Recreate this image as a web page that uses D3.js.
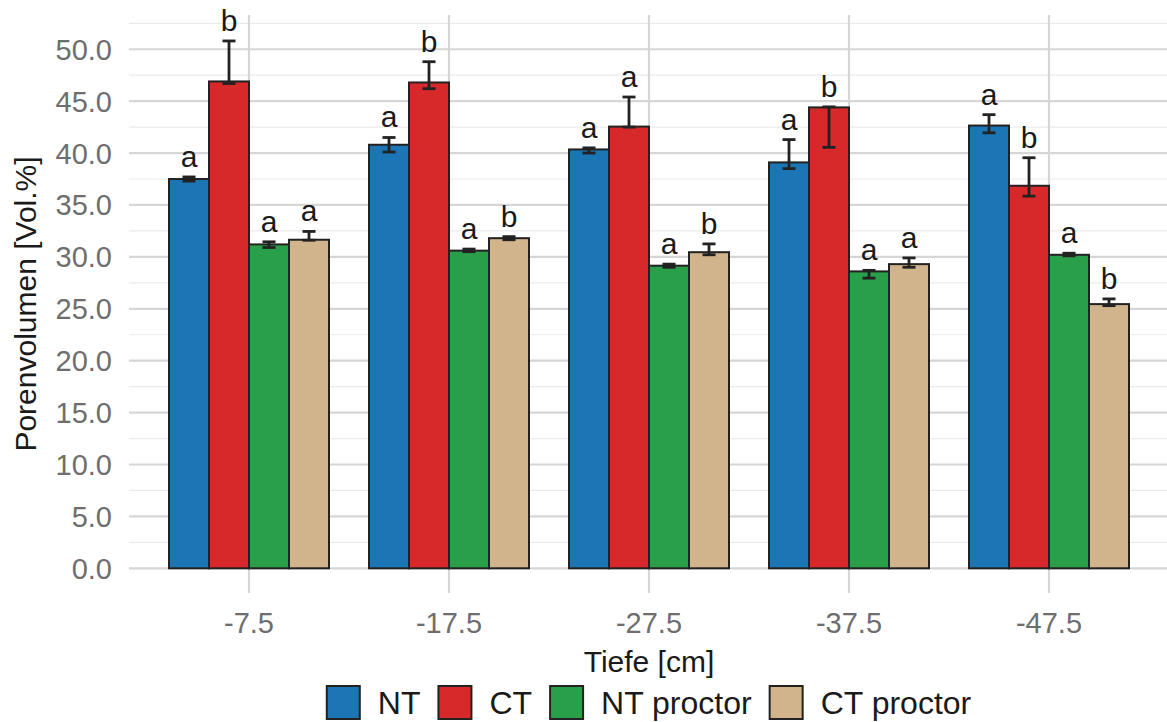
<!DOCTYPE html>
<meta charset="utf-8">
<style>
body { margin: 0; background: #fff; }
svg { font-family: "Liberation Sans", Arial, sans-serif; }
.grid-major line { stroke: #d6d6d6; stroke-width: 2.2px; }
.grid-minor line { stroke: #ebebeb; stroke-width: 1.2px; }
.bars rect { stroke: #222; stroke-width: 2px; }
.errs line { stroke: #222; stroke-width: 2.8px; }
</style>
<script src="https://d3js.org/d3.v7.min.js"></script>
<body>
<div id="chart"></div>
<script>
// data
var depths = ["-7.5", "-17.5", "-27.5", "-37.5", "-47.5"];
var series = ["NT", "CT", "NT proctor", "CT proctor"];
var colors = ["#1c76b6", "#d7282a", "#2a9f49", "#d2b48c"];

// mean values per series (one per depth)
var meanNT   = [37.5, 40.8, 40.35, 39.1, 42.65];
var meanCT   = [46.9, 46.8, 42.55, 44.4, 36.85];
var meanNTp  = [31.2, 30.6, 29.15, 28.6, 30.2];
var meanCTp  = [31.65, 31.8, 30.45, 29.3, 25.45];

// error bar low / high
var lowNT  = [37.3, 40.1, 40.0, 38.5, 41.95];
var highNT = [37.7, 41.5, 40.5, 41.3, 43.7];
var lowCT  = [46.7, 46.2, 42.5, 40.55, 35.85];
var highCT = [50.8, 48.8, 45.4, 44.45, 39.55];
var lowNTp  = [30.9, 30.5, 29.0, 27.95, 30.1];
var highNTp = [31.45, 30.75, 29.3, 28.7, 30.35];
var lowCTp  = [31.6, 31.65, 30.2, 29.0, 25.3];
var highCTp = [32.45, 31.95, 31.25, 29.9, 25.95];

// significance letters
var letNT  = ["a", "a", "a", "a", "a"];
var letCT  = ["b", "b", "a", "b", "b"];
var letNTp = ["a", "a", "a", "a", "a"];
var letCTp = ["a", "b", "b", "a", "b"];

var yTicks = [0, 5, 10, 15, 20, 25, 30, 35, 40, 45, 50];
var yMinor = [2.5, 7.5, 12.5, 17.5, 22.5, 27.5, 32.5, 37.5, 42.5, 47.5, 52.5];

var means = [meanNT, meanCT, meanNTp, meanCTp];
var lows = [lowNT, lowCT, lowNTp, lowCTp];
var highs = [highNT, highCT, highNTp, highCTp];
var lets = [letNT, letCT, letNTp, letCTp];

var rows = [];
depths.forEach(function(d, i) {
  series.forEach(function(s, j) {
    rows.push({depth: d, series: s, value: means[j][i], lo: lows[j][i], hi: highs[j][i], letter: lets[j][i], color: colors[j]});
  });
});

var W = 1167, H = 722;
var pL = 129, pR = 1169, pT = 15, pB = 593;

var svg = d3.select("#chart").append("svg")
    .attr("width", W)
    .attr("height", H);

var x0 = d3.scaleBand().domain(depths).range([pL, pR]).paddingInner(0).paddingOuter(0.1);
var x1 = d3.scaleBand().domain(series).range([0, x0.bandwidth()]).paddingInner(0).paddingOuter(0.5);
var y = d3.scaleLinear().domain([-2.38, 53.3]).range([pB, pT]);

// grid
svg.append("g").attr("class", "grid-minor")
  .selectAll("line").data(yMinor).enter().append("line")
    .attr("x1", pL).attr("x2", pR)
    .attr("y1", function(d) { return y(d); })
    .attr("y2", function(d) { return y(d); });

svg.append("g").attr("class", "grid-major")
  .selectAll("line").data(yTicks).enter().append("line")
    .attr("x1", pL).attr("x2", pR)
    .attr("y1", function(d) { return y(d); })
    .attr("y2", function(d) { return y(d); });

svg.append("g").attr("class", "grid-major")
  .selectAll("line").data(depths).enter().append("line")
    .attr("x1", function(d) { return x0(d) + x0.bandwidth() / 2; })
    .attr("x2", function(d) { return x0(d) + x0.bandwidth() / 2; })
    .attr("y1", pT).attr("y2", pB);

// bars
svg.append("g").attr("class", "bars")
  .selectAll("rect").data(rows).enter().append("rect")
    .attr("x", function(d) { return x0(d.depth) + x1(d.series); })
    .attr("width", x1.bandwidth())
    .attr("y", function(d) { return y(d.value); })
    .attr("height", function(d) { return y(0) - y(d.value); })
    .attr("fill", function(d) { return d.color; });

// error bars
var capW = 6.5;
var eg = svg.append("g").attr("class", "errs")
  .selectAll("g").data(rows).enter().append("g")
    .attr("transform", function(d) { return "translate(" + (x0(d.depth) + x1(d.series) + x1.bandwidth() / 2) + ",0)"; });
eg.append("line").attr("x1", 0).attr("x2", 0)
    .attr("y1", function(d) { return y(d.lo); })
    .attr("y2", function(d) { return y(d.hi); });
eg.append("line").attr("x1", -capW).attr("x2", capW)
    .attr("y1", function(d) { return y(d.lo); })
    .attr("y2", function(d) { return y(d.lo); });
eg.append("line").attr("x1", -capW).attr("x2", capW)
    .attr("y1", function(d) { return y(d.hi); })
    .attr("y2", function(d) { return y(d.hi); });

// letters
svg.append("g").selectAll("text").data(rows).enter().append("text")
    .attr("x", function(d) { return x0(d.depth) + x1(d.series) + x1.bandwidth() / 2; })
    .attr("y", function(d) { return y(d.hi) - 10; })
    .attr("text-anchor", "middle")
    .attr("font-size", 30)
    .attr("fill", "#1a1a1a")
    .text(function(d) { return d.letter; });

// axis labels
svg.append("g").selectAll("text").data(yTicks).enter().append("text")
    .attr("x", 112)
    .attr("y", function(d) { return y(d); })
    .attr("dy", "0.36em")
    .attr("text-anchor", "end")
    .attr("font-size", 29)
    .attr("fill", "#6e6e6e")
    .text(function(d) { return d3.format(".1f")(d); });

svg.append("g").selectAll("text").data(depths).enter().append("text")
    .attr("x", function(d) { return x0(d) + x0.bandwidth() / 2; })
    .attr("y", 633)
    .attr("text-anchor", "middle")
    .attr("font-size", 29)
    .attr("fill", "#6e6e6e")
    .text(function(d) { return d; });

svg.append("text")
    .attr("x", (pL + pR) / 2)
    .attr("y", 672)
    .attr("text-anchor", "middle")
    .attr("font-size", 30)
    .attr("fill", "#1a1a1a")
    .text("Tiefe [cm]");

svg.append("text")
    .attr("transform", "translate(36," + ((pT + pB) / 2) + ") rotate(-90)")
    .attr("text-anchor", "middle")
    .attr("font-size", 30)
    .attr("fill", "#1a1a1a")
    .text("Porenvolumen [Vol.%]");

// legend
var legend = svg.append("g");
var items = legend.selectAll("g").data(series).enter().append("g");
items.append("rect")
    .attr("width", 33).attr("height", 33)
    .attr("y", 686)
    .attr("fill", function(d, i) { return colors[i]; })
    .attr("stroke", "#222").attr("stroke-width", 2);
items.append("text")
    .attr("y", 714)
    .attr("font-size", 32)
    .attr("fill", "#1a1a1a")
    .text(function(d) { return d; });

// lay legend items out by measured text widths
var cursor = 0, gapText = 18, gapItem = 18;
items.each(function() {
  var g = d3.select(this);
  var tw = g.select("text").node().getComputedTextLength();
  g.select("rect").attr("x", cursor);
  g.select("text").attr("x", cursor + 33 + gapText);
  cursor += 33 + gapText + tw + gapItem;
});
var totalW = cursor - gapItem;
legend.attr("transform", "translate(" + ((pL + pR) / 2 - totalW / 2) + ",0)");
</script>
</body>
